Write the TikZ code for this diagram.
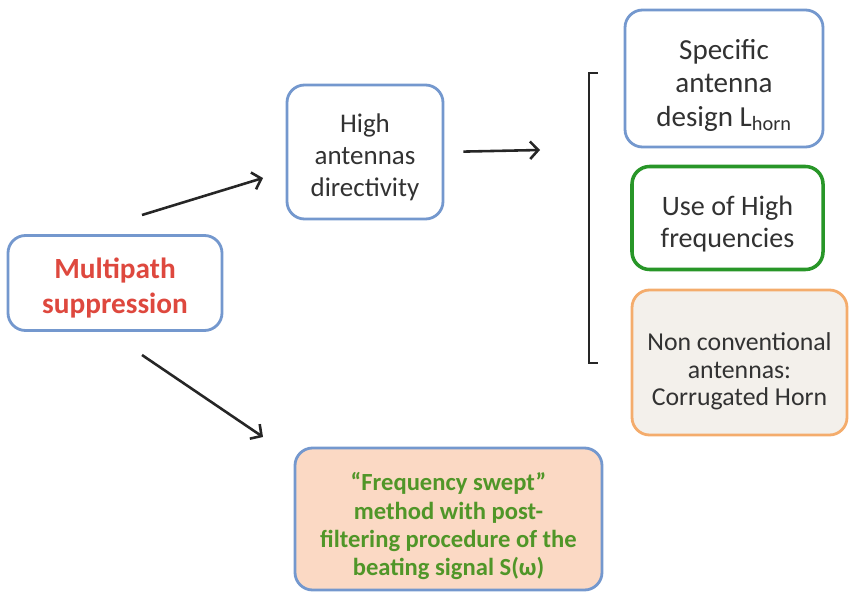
\documentclass[tikz,border=0pt]{standalone}
\usepackage{fontspec}
\setmainfont{Carlito}
\usetikzlibrary{arrows.meta}

\definecolor{boxblue}{RGB}{116,152,206}
\definecolor{boxgreen}{RGB}{40,150,40}
\definecolor{boxorange}{RGB}{244,172,108}
\definecolor{fillgrey}{RGB}{243,240,235}
\definecolor{fillpeach}{RGB}{251,217,196}
\definecolor{textgrey}{RGB}{50,50,50}
\definecolor{titlered}{RGB}{222,72,62}
\definecolor{textgreen}{RGB}{80,150,40}

% taller first line, pushes the text block down inside its box
\newcommand{\lowered}[1]{\rule{0pt}{#1}}

\tikzset{
  box/.style={draw=boxblue, line width=2.4pt, rounded corners=15pt, fill=white,
    align=center, inner sep=0pt, text=textgrey,
    font=\fontsize{23}{27}\selectfont},
  arrow/.style={-{Straight Barb[length=7pt,width=15pt,line width=2.2pt]}, line width=2.2pt, black!85},
}

\begin{document}
\begin{tikzpicture}[x=0.03cm, y=-0.03cm]
  \useasboundingbox (0,0) rectangle (849,593);

  % boxes
  \node[box, minimum width=6.42cm, minimum height=2.85cm, text=titlered,
    font=\fontsize{25}{30}\selectfont\bfseries] (multi) at (115,283)
    {\lowered{25.5pt}Multipath\\suppression};
  \node[box, minimum width=4.68cm, minimum height=4.02cm] (high) at (365,152)
    {\lowered{25pt}High\\antennas\\directivity};
  \node[box, minimum width=5.94cm, minimum height=4.11cm,
    font=\fontsize{24.8}{28.5}\selectfont] (design) at (724,78.5)
    {\lowered{28.6pt}Specific\\antenna\\design L\textsubscript{horn}};
  \node[box, draw=boxgreen, line width=3pt, minimum width=5.73cm, minimum height=3.09cm,
    font=\fontsize{24}{27}\selectfont] (freqs) at (727.5,218)
    {\lowered{26.5pt}Use of High\\frequencies};
  \node[box, draw=boxorange, fill=fillgrey, minimum width=6.45cm, minimum height=4.35cm,
    font=\fontsize{22}{23.5}\selectfont] (horn) at (739.5,362.5)
    {\lowered{30.5pt}Non conventional\\antennas:\\Corrugated Horn};
  \node[box, fill=fillpeach, minimum width=9.21cm, minimum height=4.26cm, text=textgreen,
    font=\fontsize{21}{24.2}\selectfont\bfseries] (swept) at (448.5,519)
    {\lowered{28pt}“Frequency swept”\\method with post-\\filtering procedure of the\\beating signal S(ω)};

  % bracket grouping the three antenna options
  \coordinate (brtop) at (589,73);
  \coordinate (brbot) at (589,363);
  \draw[line width=2pt, black!85] ([xshift=0.27cm]brtop) -- (brtop) -- (brbot) -- ([xshift=0.27cm]brbot);

  % arrows
  \coordinate (up0) at (142,215);
  \coordinate (up1) at (263,178);
  \coordinate (dn0) at (142,355);
  \coordinate (dn1) at (263,437);
  \coordinate (rt1) at (540,150);
  \draw[arrow] (up0) -- (up1);
  \draw[arrow] (dn0) -- (dn1);
  \draw[arrow, shorten <=0.57cm] (high.east) -- (rt1);
\end{tikzpicture}
\end{document}
